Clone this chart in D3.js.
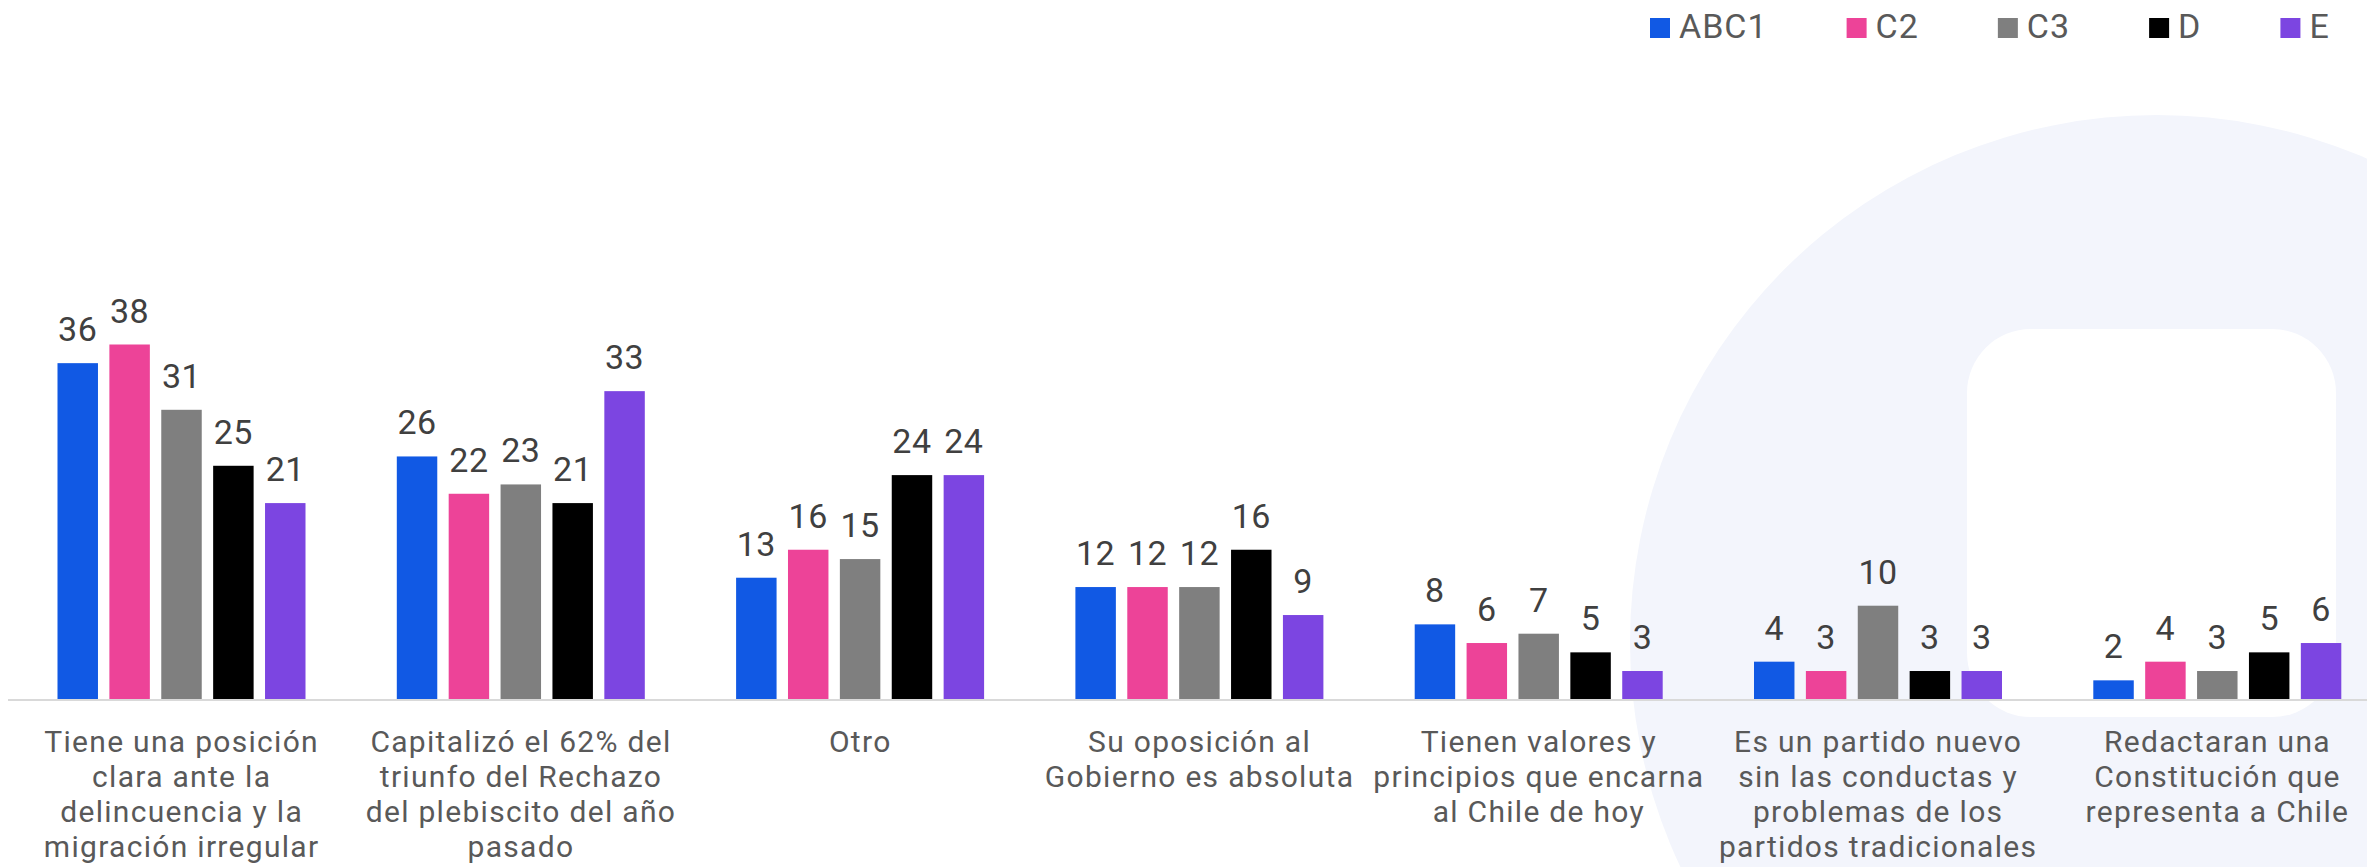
<!DOCTYPE html>
<html>
<head>
<meta charset="utf-8">
<script src="https://cdn.jsdelivr.net/npm/d3@7"></script>
<style>
  html, body { margin: 0; padding: 0; background: #ffffff; }
  svg { display: block; }
</style>
</head>
<body>
<svg id="chart" width="2367" height="867"></svg>
<script>
// ---- data ----
const categories = [
  "Tiene una posición clara ante la delincuencia y la migración irregular",
  "Capitalizó el 62% del triunfo del Rechazo del plebiscito del año pasado",
  "Otro",
  "Su oposición al Gobierno es absoluta",
  "Tienen valores y principios que encarna al Chile de hoy",
  "Es un partido nuevo sin las conductas y problemas de los partidos tradicionales",
  "Redactaran una Constitución que representa a Chile"
];
const categoryLines = [
  ["Tiene una posición", "clara ante la", "delincuencia y la", "migración irregular"],
  ["Capitalizó el 62% del", "triunfo del Rechazo", "del plebiscito del año", "pasado"],
  ["Otro"],
  ["Su oposición al", "Gobierno es absoluta"],
  ["Tienen valores y", "principios que encarna", "al Chile de hoy"],
  ["Es un partido nuevo", "sin las conductas y", "problemas de los", "partidos tradicionales"],
  ["Redactaran una", "Constitución que", "representa a Chile"]
];
const seriesNames = ["ABC1", "C2", "C3", "D", "E"];
const seriesColors = ["#1159e4", "#ed4398", "#7f7f7f", "#000000", "#7c45e1"];
const valuesABC1 = [36, 26, 13, 12, 8, 4, 2];
const valuesC2   = [38, 22, 16, 12, 6, 3, 4];
const valuesC3   = [31, 23, 15, 12, 7, 10, 3];
const valuesD    = [25, 21, 24, 16, 5, 3, 5];
const valuesE    = [21, 33, 24, 9, 3, 3, 6];

const seriesValues = [valuesABC1, valuesC2, valuesC3, valuesD, valuesE];
const table = categories.map((c, i) => ({
  cat: c, lines: categoryLines[i],
  vals: seriesNames.map((s, j) => ({ key: s, value: seriesValues[j][i], color: seriesColors[j] }))
}));

const FONT = "Roboto, 'Noto Sans', sans-serif";
const svg = d3.select("#chart");
const W = 2367, H = 867;

// ---- background watermark ----
const bg = svg.append("g");
bg.append("circle").attr("cx", 2157).attr("cy", 642).attr("r", 527).attr("fill", "#f3f5fc");
bg.append("rect").attr("x", 1967).attr("y", 329).attr("width", 369).attr("height", 388)
  .attr("rx", 64).attr("fill", "#ffffff");

// ---- scales ----
const baseY = 699;
const x0 = d3.scaleBand().domain(categories).range([12, 12 + 7 * 339.3]).paddingInner(0).paddingOuter(0);
const x1 = d3.scaleBand().domain(seriesNames).range([45.5, 293.5]).paddingInner(0.22).paddingOuter(0);
const y = d3.scaleLinear().domain([0, 38]).range([baseY, 344.5]);

// ---- bars ----
const groups = svg.append("g").selectAll("g").data(table).join("g")
  .attr("transform", d => `translate(${x0(d.cat)},0)`);

groups.selectAll("rect").data(d => d.vals).join("rect")
  .attr("x", d => x1(d.key))
  .attr("y", d => y(d.value))
  .attr("width", x1.bandwidth())
  .attr("height", d => y(0) - y(d.value))
  .attr("fill", d => d.color);

groups.selectAll("text.val").data(d => d.vals).join("text")
  .attr("class", "val")
  .attr("x", d => x1(d.key) + x1.bandwidth() / 2)
  .attr("y", d => y(d.value) - 22)
  .attr("text-anchor", "middle")
  .attr("font-family", FONT)
  .attr("font-size", 34)
  .attr("letter-spacing", 0.5)
  .attr("fill", "#404040")
  .text(d => d.value);

// ---- x axis ----
const xAxis = d3.axisBottom(x0).tickSize(0).tickFormat("");
const axisG = svg.append("g").attr("transform", `translate(0,${baseY + 1})`).call(xAxis);
axisG.select(".domain").attr("stroke", "#d9d9d9").attr("stroke-width", 2)
  .attr("d", `M8,0H${W}`);

// category labels
const labG = svg.append("g");
table.forEach(d => {
  const cx = x0(d.cat) + x0.bandwidth() / 2;
  const t = labG.append("text")
    .attr("x", cx)
    .attr("y", 752)
    .attr("text-anchor", "middle")
    .attr("font-family", FONT)
    .attr("font-size", 30)
    .attr("letter-spacing", 1.3)
    .attr("fill", "#595959");
  d.lines.forEach((ln, i) => {
    t.append("tspan").attr("x", cx)
      .attr("dy", i === 0 ? 0 : 35).text(ln);
  });
});

// ---- legend ----
const leg = svg.append("g");
let lx = 1650;
seriesNames.forEach((s, i) => {
  leg.append("rect").attr("x", lx).attr("y", 18).attr("width", 20).attr("height", 20)
    .attr("fill", seriesColors[i]);
  const t = leg.append("text").attr("x", lx + 29).attr("y", 38)
    .attr("font-family", FONT).attr("font-size", 34).attr("letter-spacing", 1)
    .attr("fill", "#595959").text(s);
  lx += 29 + t.node().getComputedTextLength() + 79;
});
</script>
</body>
</html>
